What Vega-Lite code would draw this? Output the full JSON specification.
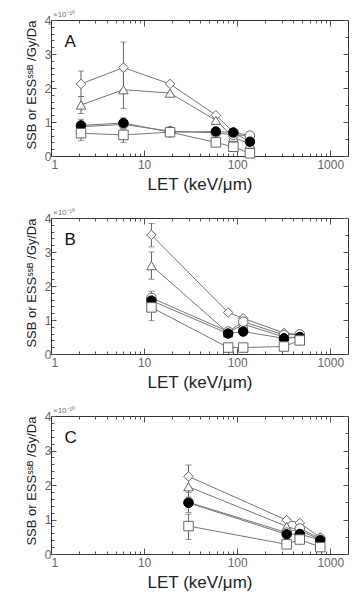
{
  "$schema": "https://vega.github.io/schema/vega-lite/v6.json",
  "padding": {"left": 24, "top": 10, "right": 2, "bottom": 0},
  "config": {
    "font": "Liberation Sans",
    "view": {"stroke": "#333", "strokeWidth": 1},
    "axis": {
      "grid": false,
      "domainColor": "#333",
      "tickColor": "#555",
      "labelColor": "#666",
      "labelFontSize": 12,
      "titleFontWeight": "normal",
      "titleColor": "#222"
    }
  },
  "datasets": {
    "pts": [
      {"panel": "A", "series": "diamond", "let": 2.1, "val": 2.12, "lo": 1.75, "hi": 2.5},
      {"panel": "A", "series": "diamond", "let": 6, "val": 2.6, "lo": 1.85, "hi": 3.35},
      {"panel": "A", "series": "diamond", "let": 19, "val": 2.12, "lo": null, "hi": null},
      {"panel": "A", "series": "diamond", "let": 59, "val": 1.2, "lo": null, "hi": null},
      {"panel": "A", "series": "diamond", "let": 91, "val": 0.7, "lo": null, "hi": null},
      {"panel": "A", "series": "diamond", "let": 137, "val": 0.6, "lo": null, "hi": null},
      {"panel": "A", "series": "triangle", "let": 2.1, "val": 1.5, "lo": 1.25, "hi": 1.75},
      {"panel": "A", "series": "triangle", "let": 6, "val": 1.95, "lo": 1.4, "hi": 2.5},
      {"panel": "A", "series": "triangle", "let": 19, "val": 1.85, "lo": null, "hi": null},
      {"panel": "A", "series": "triangle", "let": 59, "val": 1.05, "lo": null, "hi": null},
      {"panel": "A", "series": "triangle", "let": 91, "val": 0.55, "lo": null, "hi": null},
      {"panel": "A", "series": "triangle", "let": 137, "val": 0.35, "lo": null, "hi": null},
      {"panel": "A", "series": "open", "let": 2.1, "val": 0.86, "lo": null, "hi": null},
      {"panel": "A", "series": "open", "let": 6, "val": 0.93, "lo": null, "hi": null},
      {"panel": "A", "series": "open", "let": 19, "val": 0.73, "lo": null, "hi": null},
      {"panel": "A", "series": "open", "let": 59, "val": 0.68, "lo": null, "hi": null},
      {"panel": "A", "series": "open", "let": 91, "val": 0.62, "lo": null, "hi": null},
      {"panel": "A", "series": "open", "let": 137, "val": 0.6, "lo": null, "hi": null},
      {"panel": "A", "series": "filled", "let": 2.1, "val": 0.9, "lo": 0.75, "hi": 1.08},
      {"panel": "A", "series": "filled", "let": 6, "val": 0.97, "lo": 0.82, "hi": 1.12},
      {"panel": "A", "series": "filled", "let": 19, "val": 0.7, "lo": null, "hi": null},
      {"panel": "A", "series": "filled", "let": 59, "val": 0.72, "lo": null, "hi": null},
      {"panel": "A", "series": "filled", "let": 91, "val": 0.69, "lo": null, "hi": null},
      {"panel": "A", "series": "filled", "let": 137, "val": 0.42, "lo": null, "hi": null},
      {"panel": "A", "series": "square", "let": 2.1, "val": 0.67, "lo": 0.45, "hi": 0.85},
      {"panel": "A", "series": "square", "let": 6, "val": 0.62, "lo": 0.4, "hi": 0.8},
      {"panel": "A", "series": "square", "let": 19, "val": 0.7, "lo": null, "hi": null},
      {"panel": "A", "series": "square", "let": 59, "val": 0.4, "lo": null, "hi": null},
      {"panel": "A", "series": "square", "let": 91, "val": 0.27, "lo": null, "hi": null},
      {"panel": "A", "series": "square", "let": 137, "val": 0.08, "lo": null, "hi": null},

      {"panel": "B", "series": "diamond", "let": 12, "val": 3.5, "lo": 3.15, "hi": 3.84},
      {"panel": "B", "series": "diamond", "let": 80, "val": 1.22, "lo": null, "hi": null},
      {"panel": "B", "series": "diamond", "let": 116, "val": 1.05, "lo": null, "hi": null},
      {"panel": "B", "series": "diamond", "let": 318, "val": 0.62, "lo": null, "hi": null},
      {"panel": "B", "series": "diamond", "let": 470, "val": 0.57, "lo": null, "hi": null},
      {"panel": "B", "series": "triangle", "let": 12, "val": 2.6, "lo": 2.2, "hi": 3.0},
      {"panel": "B", "series": "triangle", "let": 80, "val": 0.62, "lo": null, "hi": null},
      {"panel": "B", "series": "triangle", "let": 116, "val": 0.88, "lo": null, "hi": null},
      {"panel": "B", "series": "triangle", "let": 318, "val": 0.5, "lo": null, "hi": null},
      {"panel": "B", "series": "triangle", "let": 470, "val": 0.48, "lo": null, "hi": null},
      {"panel": "B", "series": "open", "let": 12, "val": 1.65, "lo": null, "hi": null},
      {"panel": "B", "series": "open", "let": 80, "val": 0.66, "lo": null, "hi": null},
      {"panel": "B", "series": "open", "let": 116, "val": 0.95, "lo": null, "hi": null},
      {"panel": "B", "series": "open", "let": 318, "val": 0.56, "lo": null, "hi": null},
      {"panel": "B", "series": "open", "let": 470, "val": 0.58, "lo": null, "hi": null},
      {"panel": "B", "series": "filled", "let": 12, "val": 1.57, "lo": 1.3, "hi": 1.85},
      {"panel": "B", "series": "filled", "let": 80, "val": 0.6, "lo": null, "hi": null},
      {"panel": "B", "series": "filled", "let": 116, "val": 0.66, "lo": null, "hi": null},
      {"panel": "B", "series": "filled", "let": 318, "val": 0.46, "lo": null, "hi": null},
      {"panel": "B", "series": "filled", "let": 470, "val": 0.5, "lo": null, "hi": null},
      {"panel": "B", "series": "square", "let": 12, "val": 1.37, "lo": 0.98, "hi": 1.75},
      {"panel": "B", "series": "square", "let": 80, "val": 0.19, "lo": null, "hi": null},
      {"panel": "B", "series": "square", "let": 116, "val": 0.19, "lo": null, "hi": null},
      {"panel": "B", "series": "square", "let": 318, "val": 0.22, "lo": null, "hi": null},
      {"panel": "B", "series": "square", "let": 470, "val": 0.4, "lo": null, "hi": null},

      {"panel": "C", "series": "diamond", "let": 30, "val": 2.25, "lo": 1.9, "hi": 2.58},
      {"panel": "C", "series": "diamond", "let": 340, "val": 0.98, "lo": null, "hi": null},
      {"panel": "C", "series": "diamond", "let": 470, "val": 0.9, "lo": null, "hi": null},
      {"panel": "C", "series": "diamond", "let": 780, "val": 0.48, "lo": null, "hi": null},
      {"panel": "C", "series": "triangle", "let": 30, "val": 1.95, "lo": 1.65, "hi": 2.25},
      {"panel": "C", "series": "triangle", "let": 340, "val": 0.8, "lo": null, "hi": null},
      {"panel": "C", "series": "triangle", "let": 470, "val": 0.68, "lo": null, "hi": null},
      {"panel": "C", "series": "triangle", "let": 780, "val": 0.42, "lo": null, "hi": null},
      {"panel": "C", "series": "open", "let": 30, "val": 1.5, "lo": null, "hi": null},
      {"panel": "C", "series": "open", "let": 340, "val": 0.62, "lo": null, "hi": null},
      {"panel": "C", "series": "open", "let": 470, "val": 0.74, "lo": null, "hi": null},
      {"panel": "C", "series": "open", "let": 780, "val": 0.45, "lo": null, "hi": null},
      {"panel": "C", "series": "filled", "let": 30, "val": 1.48, "lo": 1.2, "hi": 1.78},
      {"panel": "C", "series": "filled", "let": 340, "val": 0.57, "lo": null, "hi": null},
      {"panel": "C", "series": "filled", "let": 470, "val": 0.58, "lo": null, "hi": null},
      {"panel": "C", "series": "filled", "let": 780, "val": 0.4, "lo": null, "hi": null},
      {"panel": "C", "series": "square", "let": 30, "val": 0.81, "lo": 0.42, "hi": 1.15},
      {"panel": "C", "series": "square", "let": 340, "val": 0.28, "lo": null, "hi": null},
      {"panel": "C", "series": "square", "let": 470, "val": 0.42, "lo": null, "hi": null},
      {"panel": "C", "series": "square", "let": 780, "val": 0.2, "lo": null, "hi": null}
    ]
  },
  "spacing": 15,
  "vconcat": [
    {
      "width": 297, "height": 136,
      "data": {"name": "pts"},
      "transform": [{"filter": "datum.panel == 'A'"}],
      "resolve": {"axis": {"x": "independent", "y": "independent"}},
      "layer": [
        {
          "mark": {"type": "line", "color": "#777", "strokeWidth": 1},
          "encoding": {
            "x": {"field": "let", "type": "quantitative", "scale": {"type": "log", "domain": [1, 1550], "nice": false},
              "axis": {"orient": "top", "labels": false, "title": null, "domain": false,
                "values": [1,2,3,4,5,6,7,8,9,10,20,30,40,50,60,70,80,90,100,200,300,400,500,600,700,800,900,1000],
                "tickSize": {"condition": {"test": "indexof([1,10,100,1000], datum.value) >= 0", "value": -6}, "value": -3}}},
            "y": {"field": "val", "type": "quantitative", "scale": {"domain": [0, 4], "nice": false},
              "axis": {"orient": "right", "labels": false, "title": null, "domain": false,
                "values": [0,0.5,1,1.5,2,2.5,3,3.5,4],
                "tickSize": {"condition": {"test": "datum.value % 1 == 0", "value": -5}, "value": -3}}},
            "detail": {"field": "series"}
          }
        },
        {
          "transform": [{"filter": "datum.lo != null"}],
          "mark": {"type": "errorbar", "color": "#666", "ticks": {"size": 6}},
          "encoding": {
            "x": {"field": "let", "type": "quantitative", "scale": {"type": "log", "domain": [1, 1550], "nice": false}, "axis": null},
            "y": {"field": "lo", "type": "quantitative", "scale": {"domain": [0, 4], "nice": false}, "axis": null},
            "y2": {"field": "hi"}
          }
        },
        {
          "mark": {"type": "point", "filled": true, "size": 90, "strokeWidth": 1, "opacity": 1},
          "encoding": {
            "x": {"field": "let", "type": "quantitative", "scale": {"type": "log", "domain": [1, 1550], "nice": false},
              "axis": {"title": "LET (keV/μm)", "titleFontSize": 17, "titlePadding": 6, "labelPadding": 9,
                "values": [1,2,3,4,5,6,7,8,9,10,20,30,40,50,60,70,80,90,100,200,300,400,500,600,700,800,900,1000],
                "labelExpr": "indexof([1,10,100,1000], datum.value) >= 0 ? datum.value + '' : ''",
                "tickSize": {"condition": {"test": "indexof([1,10,100,1000], datum.value) >= 0", "value": -6}, "value": -3}}},
            "y": {"field": "val", "type": "quantitative", "scale": {"domain": [0, 4], "nice": false},
              "axis": {"title": "SSB or ESSˢˢᴮ /Gy/Da", "titleFontSize": 13, "titleAnchor": "end", "titlePadding": 6, "labelPadding": 5,
                "values": [0,0.2,0.4,0.6,0.8,1,1.2,1.4,1.6,1.8,2,2.2,2.4,2.6,2.8,3,3.2,3.4,3.6,3.8,4],
                "labelExpr": "datum.value % 1 == 0 ? datum.value + '' : ''",
                "tickSize": {"condition": {"test": "datum.value % 1 == 0", "value": -5}, "value": -3}}},
            "shape": {"field": "series", "type": "nominal", "legend": null,
              "scale": {"domain": ["diamond", "triangle", "open", "filled", "square"], "range": ["diamond", "triangle-up", "circle", "circle", "square"]}},
            "fill": {"field": "series", "type": "nominal", "legend": null,
              "scale": {"domain": ["diamond", "triangle", "open", "filled", "square"], "range": ["white", "white", "white", "black", "white"]}},
            "stroke": {"field": "series", "type": "nominal", "legend": null,
              "scale": {"domain": ["diamond", "triangle", "open", "filled", "square"], "range": ["#666", "#666", "#666", "black", "#666"]}}
          }
        },
        {
          "data": {"values": [{"letter": "A"}]},
          "mark": {"type": "text", "align": "left", "baseline": "top", "fontSize": 17, "color": "#111"},
          "encoding": {
            "x": {"datum": 1.4, "type": "quantitative", "scale": {"type": "log", "domain": [1, 1550], "nice": false}, "axis": null},
            "y": {"datum": 3.6, "type": "quantitative", "scale": {"domain": [0, 4], "nice": false}, "axis": null},
            "text": {"field": "letter"}
          }
        },
        {
          "data": {"values": [{"t": "×10⁻¹⁰"}]},
          "mark": {"type": "text", "align": "left", "baseline": "bottom", "fontSize": 8, "color": "#777", "dy": -1, "dx": 2},
          "encoding": {
            "x": {"datum": 1, "type": "quantitative", "scale": {"type": "log", "domain": [1, 1550], "nice": false}, "axis": null},
            "y": {"datum": 4, "type": "quantitative", "scale": {"domain": [0, 4], "nice": false}, "axis": null},
            "text": {"field": "t"}
          }
        }
      ]
    },
    {
      "width": 297, "height": 136,
      "data": {"name": "pts"},
      "transform": [{"filter": "datum.panel == 'B'"}],
      "resolve": {"axis": {"x": "independent", "y": "independent"}},
      "layer": [
        {
          "mark": {"type": "line", "color": "#777", "strokeWidth": 1},
          "encoding": {
            "x": {"field": "let", "type": "quantitative", "scale": {"type": "log", "domain": [1, 1550], "nice": false},
              "axis": {"orient": "top", "labels": false, "title": null, "domain": false,
                "values": [1,2,3,4,5,6,7,8,9,10,20,30,40,50,60,70,80,90,100,200,300,400,500,600,700,800,900,1000],
                "tickSize": {"condition": {"test": "indexof([1,10,100,1000], datum.value) >= 0", "value": -6}, "value": -3}}},
            "y": {"field": "val", "type": "quantitative", "scale": {"domain": [0, 4], "nice": false},
              "axis": {"orient": "right", "labels": false, "title": null, "domain": false,
                "values": [0,0.5,1,1.5,2,2.5,3,3.5,4],
                "tickSize": {"condition": {"test": "datum.value % 1 == 0", "value": -5}, "value": -3}}},
            "detail": {"field": "series"}
          }
        },
        {
          "transform": [{"filter": "datum.lo != null"}],
          "mark": {"type": "errorbar", "color": "#666", "ticks": {"size": 6}},
          "encoding": {
            "x": {"field": "let", "type": "quantitative", "scale": {"type": "log", "domain": [1, 1550], "nice": false}, "axis": null},
            "y": {"field": "lo", "type": "quantitative", "scale": {"domain": [0, 4], "nice": false}, "axis": null},
            "y2": {"field": "hi"}
          }
        },
        {
          "mark": {"type": "point", "filled": true, "size": 90, "strokeWidth": 1, "opacity": 1},
          "encoding": {
            "x": {"field": "let", "type": "quantitative", "scale": {"type": "log", "domain": [1, 1550], "nice": false},
              "axis": {"title": "LET (keV/μm)", "titleFontSize": 17, "titlePadding": 6, "labelPadding": 9,
                "values": [1,2,3,4,5,6,7,8,9,10,20,30,40,50,60,70,80,90,100,200,300,400,500,600,700,800,900,1000],
                "labelExpr": "indexof([1,10,100,1000], datum.value) >= 0 ? datum.value + '' : ''",
                "tickSize": {"condition": {"test": "indexof([1,10,100,1000], datum.value) >= 0", "value": -6}, "value": -3}}},
            "y": {"field": "val", "type": "quantitative", "scale": {"domain": [0, 4], "nice": false},
              "axis": {"title": "SSB or ESSˢˢᴮ /Gy/Da", "titleFontSize": 13, "titleAnchor": "end", "titlePadding": 6, "labelPadding": 5,
                "values": [0,0.2,0.4,0.6,0.8,1,1.2,1.4,1.6,1.8,2,2.2,2.4,2.6,2.8,3,3.2,3.4,3.6,3.8,4],
                "labelExpr": "datum.value % 1 == 0 ? datum.value + '' : ''",
                "tickSize": {"condition": {"test": "datum.value % 1 == 0", "value": -5}, "value": -3}}},
            "shape": {"field": "series", "type": "nominal", "legend": null,
              "scale": {"domain": ["diamond", "triangle", "open", "filled", "square"], "range": ["diamond", "triangle-up", "circle", "circle", "square"]}},
            "fill": {"field": "series", "type": "nominal", "legend": null,
              "scale": {"domain": ["diamond", "triangle", "open", "filled", "square"], "range": ["white", "white", "white", "black", "white"]}},
            "stroke": {"field": "series", "type": "nominal", "legend": null,
              "scale": {"domain": ["diamond", "triangle", "open", "filled", "square"], "range": ["#666", "#666", "#666", "black", "#666"]}}
          }
        },
        {
          "data": {"values": [{"letter": "B"}]},
          "mark": {"type": "text", "align": "left", "baseline": "top", "fontSize": 17, "color": "#111"},
          "encoding": {
            "x": {"datum": 1.4, "type": "quantitative", "scale": {"type": "log", "domain": [1, 1550], "nice": false}, "axis": null},
            "y": {"datum": 3.6, "type": "quantitative", "scale": {"domain": [0, 4], "nice": false}, "axis": null},
            "text": {"field": "letter"}
          }
        },
        {
          "data": {"values": [{"t": "×10⁻¹⁰"}]},
          "mark": {"type": "text", "align": "left", "baseline": "bottom", "fontSize": 8, "color": "#777", "dy": -1, "dx": 2},
          "encoding": {
            "x": {"datum": 1, "type": "quantitative", "scale": {"type": "log", "domain": [1, 1550], "nice": false}, "axis": null},
            "y": {"datum": 4, "type": "quantitative", "scale": {"domain": [0, 4], "nice": false}, "axis": null},
            "text": {"field": "t"}
          }
        }
      ]
    },
    {
      "width": 297, "height": 138,
      "data": {"name": "pts"},
      "transform": [{"filter": "datum.panel == 'C'"}],
      "resolve": {"axis": {"x": "independent", "y": "independent"}},
      "layer": [
        {
          "mark": {"type": "line", "color": "#777", "strokeWidth": 1},
          "encoding": {
            "x": {"field": "let", "type": "quantitative", "scale": {"type": "log", "domain": [1, 1550], "nice": false},
              "axis": {"orient": "top", "labels": false, "title": null, "domain": false,
                "values": [1,2,3,4,5,6,7,8,9,10,20,30,40,50,60,70,80,90,100,200,300,400,500,600,700,800,900,1000],
                "tickSize": {"condition": {"test": "indexof([1,10,100,1000], datum.value) >= 0", "value": -6}, "value": -3}}},
            "y": {"field": "val", "type": "quantitative", "scale": {"domain": [0, 4], "nice": false},
              "axis": {"orient": "right", "labels": false, "title": null, "domain": false,
                "values": [0,0.5,1,1.5,2,2.5,3,3.5,4],
                "tickSize": {"condition": {"test": "datum.value % 1 == 0", "value": -5}, "value": -3}}},
            "detail": {"field": "series"}
          }
        },
        {
          "transform": [{"filter": "datum.lo != null"}],
          "mark": {"type": "errorbar", "color": "#666", "ticks": {"size": 6}},
          "encoding": {
            "x": {"field": "let", "type": "quantitative", "scale": {"type": "log", "domain": [1, 1550], "nice": false}, "axis": null},
            "y": {"field": "lo", "type": "quantitative", "scale": {"domain": [0, 4], "nice": false}, "axis": null},
            "y2": {"field": "hi"}
          }
        },
        {
          "mark": {"type": "point", "filled": true, "size": 90, "strokeWidth": 1, "opacity": 1},
          "encoding": {
            "x": {"field": "let", "type": "quantitative", "scale": {"type": "log", "domain": [1, 1550], "nice": false},
              "axis": {"title": "LET (keV/μm)", "titleFontSize": 17, "titlePadding": 6, "labelPadding": 9,
                "values": [1,2,3,4,5,6,7,8,9,10,20,30,40,50,60,70,80,90,100,200,300,400,500,600,700,800,900,1000],
                "labelExpr": "indexof([1,10,100,1000], datum.value) >= 0 ? datum.value + '' : ''",
                "tickSize": {"condition": {"test": "indexof([1,10,100,1000], datum.value) >= 0", "value": -6}, "value": -3}}},
            "y": {"field": "val", "type": "quantitative", "scale": {"domain": [0, 4], "nice": false},
              "axis": {"title": "SSB or ESSˢˢᴮ /Gy/Da", "titleFontSize": 13, "titleAnchor": "end", "titlePadding": 6, "labelPadding": 5,
                "values": [0,0.2,0.4,0.6,0.8,1,1.2,1.4,1.6,1.8,2,2.2,2.4,2.6,2.8,3,3.2,3.4,3.6,3.8,4],
                "labelExpr": "datum.value % 1 == 0 ? datum.value + '' : ''",
                "tickSize": {"condition": {"test": "datum.value % 1 == 0", "value": -5}, "value": -3}}},
            "shape": {"field": "series", "type": "nominal", "legend": null,
              "scale": {"domain": ["diamond", "triangle", "open", "filled", "square"], "range": ["diamond", "triangle-up", "circle", "circle", "square"]}},
            "fill": {"field": "series", "type": "nominal", "legend": null,
              "scale": {"domain": ["diamond", "triangle", "open", "filled", "square"], "range": ["white", "white", "white", "black", "white"]}},
            "stroke": {"field": "series", "type": "nominal", "legend": null,
              "scale": {"domain": ["diamond", "triangle", "open", "filled", "square"], "range": ["#666", "#666", "#666", "black", "#666"]}}
          }
        },
        {
          "data": {"values": [{"letter": "C"}]},
          "mark": {"type": "text", "align": "left", "baseline": "top", "fontSize": 17, "color": "#111"},
          "encoding": {
            "x": {"datum": 1.4, "type": "quantitative", "scale": {"type": "log", "domain": [1, 1550], "nice": false}, "axis": null},
            "y": {"datum": 3.6, "type": "quantitative", "scale": {"domain": [0, 4], "nice": false}, "axis": null},
            "text": {"field": "letter"}
          }
        },
        {
          "data": {"values": [{"t": "×10⁻¹⁰"}]},
          "mark": {"type": "text", "align": "left", "baseline": "bottom", "fontSize": 8, "color": "#777", "dy": -1, "dx": 2},
          "encoding": {
            "x": {"datum": 1, "type": "quantitative", "scale": {"type": "log", "domain": [1, 1550], "nice": false}, "axis": null},
            "y": {"datum": 4, "type": "quantitative", "scale": {"domain": [0, 4], "nice": false}, "axis": null},
            "text": {"field": "t"}
          }
        }
      ]
    }
  ]
}
